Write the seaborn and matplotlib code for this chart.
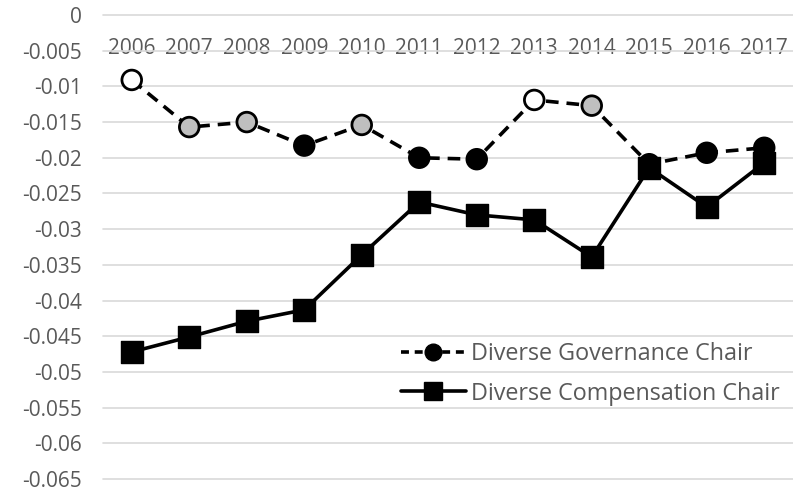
import matplotlib
matplotlib.use("Agg")
import matplotlib.pyplot as plt
from matplotlib.lines import Line2D
import seaborn as sns
import pandas as pd

years = ["2006", "2007", "2008", "2009", "2010", "2011", "2012", "2013", "2014", "2015", "2016", "2017"]
governance = [-0.0091, -0.0157, -0.0150, -0.0183, -0.0154, -0.0200, -0.0202, -0.0119, -0.0127, -0.0209, -0.0193, -0.0186]
governance_fill = ["white", "gray", "gray", "black", "gray", "black", "black", "white", "gray", "black", "black", "black"]
compensation = [-0.0472, -0.0451, -0.0429, -0.0413, -0.0336, -0.0262, -0.0280, -0.0287, -0.0339, -0.0214, -0.0269, -0.0207]
y_ticks = [0, -0.005, -0.01, -0.015, -0.02, -0.025, -0.03, -0.035, -0.04, -0.045, -0.05, -0.055, -0.06, -0.065]
y_tick_labels = ["0", "-0.005", "-0.01", "-0.015", "-0.02", "-0.025", "-0.03", "-0.035", "-0.04", "-0.045", "-0.05", "-0.055", "-0.06", "-0.065"]
series_names = ["Diverse Governance Chair", "Diverse Compensation Chair"]

sns.set_theme(style="white")
plt.rcParams['font.family'] = ['Open Sans', 'DejaVu Sans']
TXT = "#595959"

df_g = pd.DataFrame({"x": range(len(years)), "y": governance, "fill": governance_fill})
df_c = pd.DataFrame({"x": range(len(years)), "y": compensation})

fig = plt.figure(figsize=(7.93, 4.91), dpi=100)
ax = fig.add_axes([103/793, 1 - 479/491, 1 - 103/793, (479 - 15)/491])

fill_pal = {"white": "#ffffff", "gray": "#bfbfbf", "black": "#000000"}

sns.lineplot(data=df_g, x="x", y="y", ax=ax, color="black", lw=2.6, zorder=3)
ax.lines[-1].set_dashes((3.5, 2.2))
ax.lines[-1].set_dash_capstyle("butt")
sns.scatterplot(data=df_g, x="x", y="y", hue="fill", palette=fill_pal, ax=ax, s=200,
                marker="o", edgecolor="black", linewidth=2.0, legend=False, zorder=4)
sns.lineplot(data=df_c, x="x", y="y", ax=ax, color="black", lw=2.6, zorder=5)
sns.scatterplot(data=df_c, x="x", y="y", ax=ax, s=240, marker="s", color="black",
                edgecolor="black", linewidth=1.0, legend=False, zorder=6)

ax.set_xlim(-0.5, len(years) - 0.5)
ax.set_ylim(-0.065, 0)
ax.set_yticks(y_ticks)
ax.set_yticklabels(y_tick_labels)
ax.set_xticks(range(len(years)))
ax.set_xticklabels(years)
ax.set_xlabel("")
ax.set_ylabel("")
for s in ax.spines.values():
    s.set_visible(False)
ax.grid(axis="y", color="#d9d9d9", lw=1.2)
ax.grid(axis="x", visible=False)
for gl in ax.get_ygridlines():
    gl.set_clip_on(False)
ax.set_axisbelow(True)
ax.tick_params(axis="y", length=0, pad=15, labelsize=15, labelcolor=TXT)
ax.tick_params(axis="x", length=0, bottom=False, labelbottom=False, top=False, labeltop=True,
               pad=-32, labelsize=15, labelcolor=TXT)

handles = [
    Line2D([], [], color="black", lw=2.6, dashes=(2.2, 1.6), marker="o", markersize=12,
           markerfacecolor="black", markeredgecolor="black"),
    Line2D([], [], color="black", lw=2.6, marker="s", markersize=13,
           markerfacecolor="black", markeredgecolor="black"),
]
leg = ax.legend(handles, series_names, loc="upper left", bbox_to_anchor=(392/793, 1 - 333/491),
                bbox_transform=fig.transFigure, frameon=False, fontsize=16.8, handlelength=2.75,
                handletextpad=0.25, labelspacing=0.65, borderaxespad=0)
for t in leg.get_texts():
    t.set_color(TXT)

fig.savefig("out.png", dpi=100)
